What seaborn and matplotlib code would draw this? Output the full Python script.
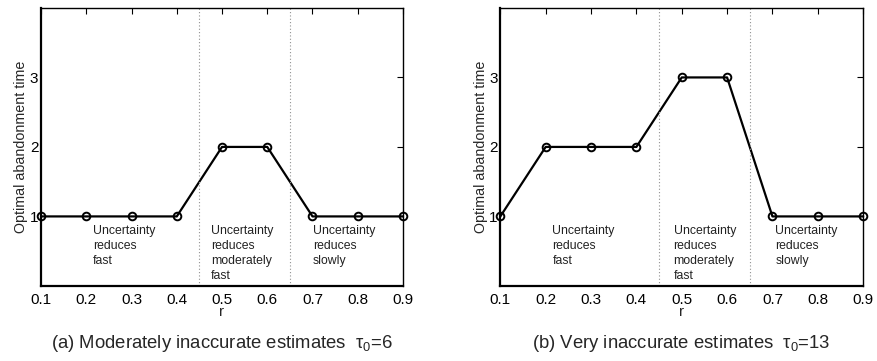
import numpy as np
import pandas as pd
import matplotlib
matplotlib.use("Agg")
import matplotlib.pyplot as plt
import seaborn as sns

# r values and optimal abandonment times for the two estimate-accuracy settings
r_values = [0.1, 0.2, 0.3, 0.4, 0.5, 0.6, 0.7, 0.8, 0.9]
time_moderate = [1, 1, 1, 1, 2, 2, 1, 1, 1]
time_very = [1, 2, 2, 2, 3, 3, 1, 1, 1]

x_ticks = [0.1, 0.2, 0.3, 0.4, 0.5, 0.6, 0.7, 0.8, 0.9]
y_ticks = [1, 2, 3]
region_bounds = [0.45, 0.65]
region_labels = ["Uncertainty\nreduces\nfast",
                 "Uncertainty\nreduces\nmoderately\nfast",
                 "Uncertainty\nreduces\nslowly"]
captions = [r"(a) Moderately inaccurate estimates  $\tau_0$=6",
            r"(b) Very inaccurate estimates  $\tau_0$=13"]

sns.set_theme(style="white")
plt.rcParams["font.family"] = ["Liberation Sans", "DejaVu Sans"]
plt.rcParams["mathtext.fontset"] = "custom"
plt.rcParams["mathtext.rm"] = "Liberation Sans"
plt.rcParams["mathtext.it"] = "Liberation Sans"

fig = plt.figure(figsize=(8.77, 3.61), dpi=100)
ax_a = fig.add_axes([0.0468, 0.208, 0.4127, 0.770])
ax_b = fig.add_axes([0.5705, 0.208, 0.4137, 0.770])

panels = [
    (ax_a, time_moderate, [0.215, 0.476, 0.701], captions[0]),
    (ax_b, time_very, [0.215, 0.482, 0.7066], captions[1]),
]

for ax, values, text_x, caption in panels:
    df = pd.DataFrame({"r": r_values, "t": values})
    sns.lineplot(data=df, x="r", y="t", ax=ax, color="black", linewidth=1.6,
                 marker="o", markersize=5.5, markerfacecolor="none",
                 markeredgecolor="black", markeredgewidth=1.4, clip_on=False)
    for xb in region_bounds:
        ax.axvline(xb, color="#909090", linestyle=(0, (1, 2)), linewidth=0.8)
    for tx, label in zip(text_x, region_labels):
        ax.text(tx, 0.87, label, fontsize=8.8, va="top", ha="left",
                color="#222222", linespacing=1.3)
    ax.set_xlim(0.1, 0.9)
    ax.set_ylim(0, 4)
    ax.set_xticks(x_ticks)
    ax.set_xticklabels([f"{v:.1f}" for v in x_ticks])
    ax.set_yticks(y_ticks)
    ax.set_yticklabels([str(v) for v in y_ticks])
    ax.tick_params(axis="both", direction="in", length=4, width=0.8,
                   top=True, right=True, labelsize=11, colors="black")
    ax.tick_params(axis="x", pad=5)
    ax.tick_params(axis="y", pad=2)
    for sp in ax.spines.values():
        sp.set_color("black")
        sp.set_linewidth(1.0)
    ax.spines["left"].set_linewidth(1.6)
    ax.spines["bottom"].set_linewidth(1.6)
    ax.set_xlabel("r", fontsize=11, labelpad=-1)
    ax.set_ylabel("Optimal abandonment time", fontsize=10.3, labelpad=1)
    ax.text(0.5, -0.168, caption, transform=ax.transAxes, ha="center",
            va="top", fontsize=13.3)

fig.savefig("out.png", dpi=100)
